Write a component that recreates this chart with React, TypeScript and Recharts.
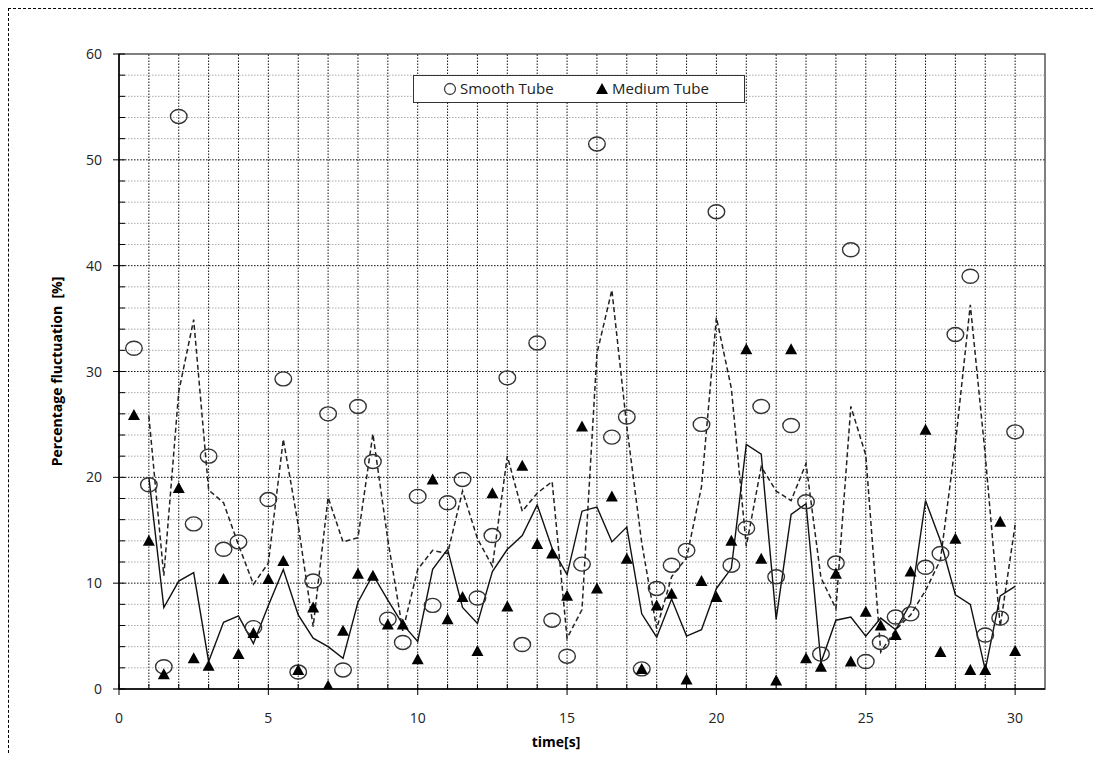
import React from "react";
import {
  ComposedChart,
  Scatter,
  Line,
  XAxis,
  YAxis,
  ReferenceLine,
  ReferenceArea,
  Legend,
} from "recharts";

// time stamps of the samples [s]
const times = [
  0.5, 1, 1.5, 2, 2.5, 3, 3.5, 4, 4.5, 5, 5.5, 6, 6.5, 7, 7.5, 8, 8.5, 9, 9.5, 10,
  10.5, 11, 11.5, 12, 12.5, 13, 13.5, 14, 14.5, 15, 15.5, 16, 16.5, 17, 17.5, 18,
  18.5, 19, 19.5, 20, 20.5, 21, 21.5, 22, 22.5, 23, 23.5, 24, 24.5, 25, 25.5, 26,
  26.5, 27, 27.5, 28, 28.5, 29, 29.5, 30,
];

const smoothTube = [
  32.2, 19.3, 2.1, 54.1, 15.6, 22.0, 13.2, 13.9, 5.8, 17.9, 29.3, 1.6, 10.2, 26.0,
  1.8, 26.7, 21.5, 6.6, 4.4, 18.2, 7.9, 17.6, 19.8, 8.6, 14.5, 29.4, 4.2, 32.7, 6.5,
  3.1, 11.8, 51.5, 23.8, 25.7, 1.9, 9.5, 11.7, 13.1, 25.0, 45.1, 11.7, 15.2, 26.7,
  10.6, 24.9, 17.7, 3.3, 11.9, 41.5, 2.6, 4.4, 6.8, 7.1, 11.5, 12.8, 33.5, 39.0, 5.1,
  6.7, 24.3,
];

const mediumTube = [
  25.9, 14.0, 1.4, 19.0, 2.9, 2.2, 10.4, 3.3, 5.3, 10.4, 12.1, 1.8, 7.7, 0.3, 5.5,
  10.9, 10.7, 6.1, 6.1, 2.8, 19.8, 6.6, 8.7, 3.6, 18.5, 7.8, 21.1, 13.7, 12.8, 8.8,
  24.8, 9.5, 18.2, 12.3, 1.9, 7.9, 9.0, 0.9, 10.2, 8.7, 14.0, 32.1, 12.3, 0.8, 32.1,
  2.9, 2.1, 10.9, 2.6, 7.3, 6.0, 5.1, 11.1, 24.5, 3.5, 14.2, 1.8, 1.8, 15.8, 3.6,
];

// trend lines (dashed = smooth tube, solid = medium tube), from t = 1 s
const trendTimes = times.slice(1);

const smoothTrend = [
  25.8, 10.7, 28.1, 34.9, 18.8, 17.6, 13.6, 9.9, 11.9, 23.6, 15.5, 5.9, 18.1, 13.9,
  14.3, 24.1, 14.1, 5.5, 11.3, 13.1, 12.8, 18.7, 14.2, 11.6, 22.0, 16.8, 18.5, 19.6,
  4.8, 7.5, 31.7, 37.7, 24.8, 13.8, 5.7, 10.6, 12.4, 19.1, 35.1, 28.4, 13.5, 21.0,
  18.7, 17.8, 21.3, 10.5, 7.6, 26.7, 22.1, 3.5, 5.6, 7.0, 9.3, 12.2, 23.2, 36.3, 22.1,
  5.9, 15.5,
];

const mediumTrend = [
  20.0, 7.7, 10.2, 11.0, 2.6, 6.3, 6.9, 4.3, 7.9, 11.3, 7.0, 4.8, 4.0, 2.9, 8.2, 10.8,
  8.4, 6.1, 4.5, 11.3, 13.2, 7.7, 6.2, 11.1, 13.2, 14.5, 17.4, 13.3, 10.8, 16.8, 17.2,
  13.9, 15.3, 7.1, 4.9, 8.5, 5.0, 5.6, 9.5, 11.4, 23.1, 22.2, 6.6, 16.5, 17.5, 2.5,
  6.5, 6.8, 5.0, 6.7, 5.6, 8.1, 17.8, 14.0, 8.9, 8.0, 1.8, 8.8, 9.7,
];

const xTicks = [
  0, 1, 2, 3, 4, 5, 6, 7, 8, 9, 10, 11, 12, 13, 14, 15, 16, 17, 18, 19, 20, 21, 22,
  23, 24, 25, 26, 27, 28, 29, 30,
];
const yTicks = [
  0, 2, 4, 6, 8, 10, 12, 14, 16, 18, 20, 22, 24, 26, 28, 30, 32, 34, 36, 38, 40, 42,
  44, 46, 48, 50, 52, 54, 56, 58, 60,
];

const smoothData = times.map((t, i) => ({ x: t, y: smoothTube[i] }));
const mediumData = times.map((t, i) => ({ x: t, y: mediumTube[i] }));
const smoothTrendData = trendTimes.map((t, i) => ({ x: t, y: smoothTrend[i] }));
const mediumTrendData = trendTimes.map((t, i) => ({ x: t, y: mediumTrend[i] }));

const font = "'Open Sans', 'DejaVu Sans', sans-serif";

const CircleMark = (props: any) => {
  const { cx, cy } = props;
  if (cx == null || cy == null) return null;
  return <ellipse cx={cx} cy={cy} rx={8.3} ry={7} fill="none" stroke="#333" strokeWidth={1.4} />;
};

const TriangleMark = (props: any) => {
  const { cx, cy } = props;
  if (cx == null || cy == null) return null;
  return (
    <polygon
      points={`${cx},${cy - 6} ${cx - 6},${cy + 5} ${cx + 6},${cy + 5}`}
      fill="#000"
    />
  );
};

const XTick = (props: any) => {
  const { x, y, payload } = props;
  const v = payload.value;
  const major = v % 5 === 0;
  return (
    <g>
      <line x1={x} x2={x} y1={y - 5} y2={major ? y + 6 : y} stroke="#000" strokeWidth={1} />
      {major && (
        <text x={x} y={y + 34} textAnchor="middle" fontSize={14} fontFamily={font} fill="#222">
          {v}
        </text>
      )}
    </g>
  );
};

const YTick = (props: any) => {
  const { x, y, payload } = props;
  const v = payload.value;
  const major = v % 10 === 0;
  return (
    <g>
      <line x1={major ? x - 6 : x} x2={x + 6} y1={y} y2={y} stroke="#000" strokeWidth={1} />
      {major && (
        <text x={x - 17} y={y + 5} textAnchor="end" fontSize={14} fontFamily={font} fill="#222">
          {v}
        </text>
      )}
    </g>
  );
};

const LegendBox = () => (
  <div
    style={{
      width: 332,
      height: 28,
      boxSizing: "border-box",
      border: "1.5px solid #333",
      background: "#fff",
      fontFamily: font,
      fontSize: 15,
      color: "#222",
      position: "relative",
    }}
  >
    <svg width={14} height={14} style={{ position: "absolute", left: 29, top: 6 }}>
      <circle cx={7} cy={7} r={5.5} fill="none" stroke="#444" strokeWidth={1.3} />
    </svg>
    <span style={{ position: "absolute", left: 46, top: 2, whiteSpace: "nowrap" }}>Smooth Tube</span>
    <svg width={14} height={14} style={{ position: "absolute", left: 181, top: 6 }}>
      <polygon points="7,1 1,12 13,12" fill="#000" />
    </svg>
    <span style={{ position: "absolute", left: 198, top: 2, whiteSpace: "nowrap" }}>Medium Tube</span>
  </div>
);

const YTitle = (props: any) => {
  const { viewBox } = props;
  const cx = 53;
  const cy = viewBox.y + viewBox.height / 2;
  return (
    <text
      x={cx}
      y={cy}
      transform={`rotate(-90 ${cx} ${cy})`}
      textAnchor="middle"
      fontSize={14}
      fontWeight="bold"
      fontFamily={font}
      fill="#000"
    >
      Percentage fluctuation&#160;&#160;[%]
    </text>
  );
};

const XTitle = (props: any) => {
  const { viewBox } = props;
  const cx = viewBox.x + viewBox.width / 2 - 26;
  return (
    <text x={cx} y={viewBox.y + 58} textAnchor="middle" fontSize={14} fontWeight="bold" fontFamily={font} fill="#000">
      time[s]
    </text>
  );
};

const App: React.FC = () => {
  return (
    <div
      style={{
        width: 1094,
        height: 744,
        borderTop: "1px dashed #000",
        borderLeft: "1px dashed #000",
        position: "relative",
        background: "#fff",
      }}
    >
      <ComposedChart
        width={1090}
        height={744}
        margin={{ top: 45, right: 54, bottom: 14, left: 50 }}
      >
        {xTicks.slice(1).map((v) => (
          <ReferenceLine key={`vx${v}`} x={v} stroke="#111" strokeDasharray="1.5 1.5" strokeWidth={1} />
        ))}
        {yTicks
          .filter((v) => v % 10 !== 0)
          .map((v) => (
            <ReferenceLine key={`hy${v}`} y={v} stroke="#aaa" strokeDasharray="1.5 1.5" strokeWidth={1} />
          ))}
        {yTicks
          .filter((v) => v % 10 === 0 && v > 0 && v < 60)
          .map((v) => (
            <ReferenceLine key={`hY${v}`} y={v} stroke="#111" strokeDasharray="1.5 1.5" strokeWidth={1} />
          ))}
        <ReferenceArea x1={0} x2={31} y1={0} y2={60} fill="none" stroke="#555" strokeWidth={1.5} />
        <XAxis
          type="number"
          dataKey="x"
          domain={[0, 31]}
          ticks={xTicks}
          interval={0}
          tickSize={0}
          tickMargin={0}
          tickLine={false}
          tick={<XTick />}
          axisLine={{ stroke: "#000", strokeWidth: 1.5 }}
          height={50}
          allowDataOverflow
          label={<XTitle />}
        />
        <YAxis
          type="number"
          dataKey="y"
          domain={[0, 60]}
          ticks={yTicks}
          interval={0}
          tickSize={0}
          tickMargin={0}
          tickLine={false}
          tick={<YTick />}
          axisLine={{ stroke: "#000", strokeWidth: 1.5 }}
          width={60}
          allowDataOverflow
          label={<YTitle />}
        />
        <Line
          data={smoothTrendData}
          dataKey="y"
          type="linear"
          stroke="#222"
          strokeWidth={1.5}
          strokeDasharray="5 3"
          dot={false}
          isAnimationActive={false}
          legendType="none"
        />
        <Line
          data={mediumTrendData}
          dataKey="y"
          type="linear"
          stroke="#111"
          strokeWidth={1.4}
          dot={false}
          isAnimationActive={false}
          legendType="none"
        />
        <Scatter data={smoothData} dataKey="y" name="Smooth Tube" shape={<CircleMark />} isAnimationActive={false} />
        <Scatter data={mediumData} dataKey="y" name="Medium Tube" shape={<TriangleMark />} isAnimationActive={false} />
        <Legend
          layout="horizontal"
          verticalAlign="middle"
          align="center"
          content={<LegendBox />}
          wrapperStyle={{ left: 404, top: 66, width: 332, height: 28 }}
        />
      </ComposedChart>
    </div>
  );
};

export default App;
